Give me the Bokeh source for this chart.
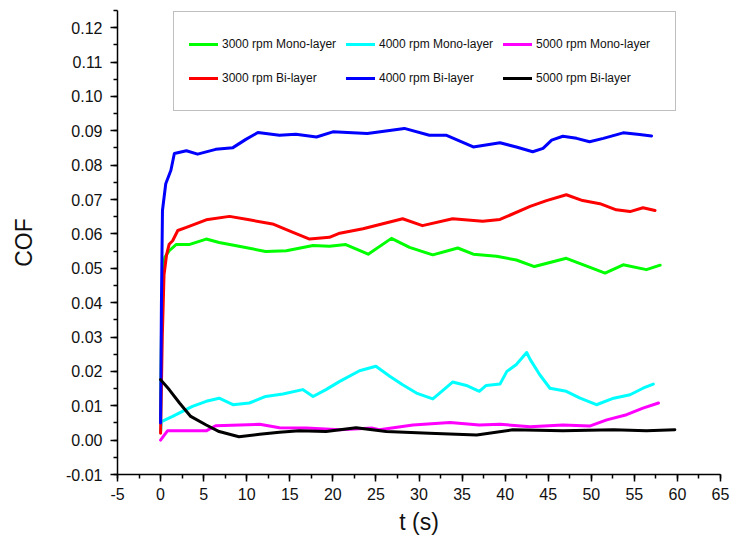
from bokeh.plotting import figure
from bokeh.models import (Range1d, SingleIntervalTicker, CustomJSTickFormatter,
                          Legend, LegendItem)
from bokeh.embed import file_html
from bokeh.resources import INLINE

# ---- data ----
t_green = [0, 0.1, 0.3, 0.5, 1.0, 1.8, 3.3, 5.3, 6.8, 9.1, 12.2, 14.6, 17.7, 19.6, 21.5,
           24.1, 26.8, 28.9, 31.6, 34.5, 36.3, 39.0, 41.3, 43.4, 47.1, 49.4, 51.6, 53.7, 56.4, 58.0]
cof_green = [0.0057, 0.030, 0.050, 0.0532, 0.0551, 0.0569, 0.0569, 0.0585, 0.0575, 0.0564,
             0.0549, 0.0551, 0.0566, 0.0564, 0.0569, 0.0541, 0.0587, 0.0561, 0.0539, 0.0559,
             0.0541, 0.0535, 0.0524, 0.0505, 0.0529, 0.0507, 0.0486, 0.0510, 0.0496, 0.0509]

t_red = [0, 0.2, 0.4, 0.7, 1.0, 1.4, 2.0, 3.0, 5.3, 8.0, 10.3, 13.0, 15.3, 17.3, 19.6, 20.8,
         23.5, 28.1, 30.4, 33.9, 37.4, 39.4, 42.9, 44.8, 47.1, 49.0, 51.0, 52.9, 54.5, 56.0, 57.4]
cof_red = [0.002, 0.030, 0.048, 0.054, 0.057, 0.058, 0.061, 0.0619, 0.0641, 0.0651, 0.0641,
           0.0629, 0.0605, 0.0585, 0.0590, 0.0602, 0.0615, 0.0644, 0.0624, 0.0644, 0.0637,
           0.0642, 0.0680, 0.0697, 0.0714, 0.0697, 0.0688, 0.0670, 0.0665, 0.0676, 0.0668]

t_blue = [0, 0.1, 0.22, 0.6, 1.2, 1.6, 3.0, 4.3, 6.4, 8.4, 9.9, 11.3, 13.8, 15.7, 18.1, 20.0,
          24.0, 28.3, 31.2, 33.2, 36.3, 39.4, 41.3, 43.2, 44.4, 45.4, 46.7, 48.3, 49.8, 51.4,
          53.7, 55.6, 57.0]
cof_blue = [0.005, 0.040, 0.0668, 0.0746, 0.0785, 0.0834, 0.0842, 0.0832, 0.0846, 0.0851,
            0.0875, 0.0895, 0.0887, 0.0890, 0.0882, 0.0897, 0.0892, 0.0907, 0.0887, 0.0887,
            0.0853, 0.0865, 0.0853, 0.0839, 0.0849, 0.0873, 0.0884, 0.0878, 0.0868, 0.0878,
            0.0894, 0.0889, 0.0885]

t_cyan = [0, 0.1, 1.4, 3.7, 5.3, 6.8, 8.4, 10.3, 12.2, 14.2, 16.5, 17.7, 19.2, 20.8, 23.1,
          25.0, 26.6, 28.1, 29.7, 31.6, 32.4, 33.9, 35.5, 37.0, 37.8, 39.4, 40.2, 41.3, 42.5,
          42.9, 44.0, 45.2, 47.1, 48.7, 50.6, 52.6, 54.5, 56.0, 57.2]
cof_cyan = [0.0023, 0.0054, 0.0069, 0.0098, 0.0113, 0.0122, 0.0103, 0.0108, 0.0127, 0.0134,
            0.0147, 0.0127, 0.0147, 0.0171, 0.0202, 0.0215, 0.0186, 0.0161, 0.0137, 0.0120,
            0.0137, 0.0169, 0.0159, 0.0142, 0.0159, 0.0163, 0.0200, 0.0220, 0.0255, 0.0235,
            0.0191, 0.0151, 0.0142, 0.0122, 0.0103, 0.0122, 0.0132, 0.0151, 0.0163]

t_magenta = [0, 0.8, 5.3, 6.4, 11.5, 13.8, 16.9, 20.8, 24.6, 25.4, 29.3, 33.6, 37.0, 39.4,
             42.9, 46.7, 49.8, 51.8, 54.1, 56.0, 57.8]
cof_magenta = [0.0, 0.0027, 0.0027, 0.0042, 0.0046, 0.0036, 0.0035, 0.0030, 0.0035, 0.0030,
               0.0044, 0.0051, 0.0044, 0.0046, 0.0039, 0.0044, 0.0041, 0.0059, 0.0074,
               0.0093, 0.0108]

t_black = [0, 1.0, 2.2, 3.5, 5.3, 6.8, 9.1, 11.5, 13.8, 16.1, 19.2, 22.7, 26.2, 31.2, 36.7,
           40.9, 46.7, 52.6, 56.4, 59.7]
cof_black = [0.0176, 0.0147, 0.0108, 0.0069, 0.0044, 0.0025, 0.0010, 0.0017, 0.0023, 0.0027,
             0.0025, 0.0036, 0.0025, 0.0020, 0.0015, 0.0030, 0.0027, 0.0030, 0.0027, 0.0030]

labels = ["3000 rpm Mono-layer", "4000 rpm Mono-layer", "5000 rpm Mono-layer",
          "3000 rpm Bi-layer", "4000 rpm Bi-layer", "5000 rpm Bi-layer"]
x_ticks_interval = 5
y_ticks_interval = 0.01

# ---- figure ----
p = figure(width=733, height=544, output_backend="svg", toolbar_location=None,
           x_range=Range1d(-5, 65), y_range=Range1d(-0.01, 0.125),
           min_border_left=117, min_border_right=13, min_border_top=10, min_border_bottom=70)
p.outline_line_color = None
p.xgrid.visible = False
p.ygrid.visible = False
p.background_fill_color = "white"
p.border_fill_color = "white"

p.xaxis.ticker = SingleIntervalTicker(interval=x_ticks_interval, num_minor_ticks=2)
p.yaxis.ticker = SingleIntervalTicker(interval=y_ticks_interval, num_minor_ticks=2)
p.xaxis.formatter = CustomJSTickFormatter(code="return tick.toFixed(0);")
p.yaxis.formatter = CustomJSTickFormatter(code="return tick.toFixed(2);")

for ax in (p.xaxis[0], p.yaxis[0]):
    ax.axis_line_width = 1.5
    ax.axis_line_color = "black"
    ax.major_tick_line_width = 1.5
    ax.minor_tick_line_width = 1.5
    ax.major_tick_out = 7
    ax.major_tick_in = 0
    ax.minor_tick_out = 4
    ax.minor_tick_in = 0
    ax.major_label_text_font = "Liberation Sans"
    ax.major_label_text_font_size = "16px"
    ax.major_label_text_color = "#111111"
    ax.axis_label_text_font = "Liberation Sans"
    ax.axis_label_text_font_size = "23px"
    ax.axis_label_text_font_style = "normal"
    ax.axis_label_text_color = "#111111"

p.yaxis.major_label_standoff = 8
p.xaxis.major_label_standoff = 6
p.xaxis.axis_label = "t (s)"
p.xaxis.axis_label_standoff = 6
p.yaxis.axis_label = "COF"
p.yaxis.axis_label_standoff = 26

lw = 3
series = [
    (t_green, cof_green, "#00ff00"),
    (t_cyan, cof_cyan, "#00ffff"),
    (t_magenta, cof_magenta, "#ff00ff"),
    (t_red, cof_red, "#ff0000"),
    (t_blue, cof_blue, "#0000ff"),
    (t_black, cof_black, "#000000"),
]
rends = []
for tx, cy, col in series:
    r = p.line(tx, cy, line_color=col, line_width=lw, line_join="round", line_cap="round")
    rends.append(r)

# column-major order for a 3-column, 2-row legend
order = [0, 3, 1, 4, 2, 5]
items = [LegendItem(label=labels[i], renderers=[rends[i]]) for i in order]
legend = Legend(items=items, location=(56, 363), ncols=3, orientation="vertical",
                label_text_font="Liberation Sans", label_text_font_size="12px",
                label_text_color="#111111",
                glyph_width=29, glyph_height=34, label_height=34, label_width=124,
                label_standoff=4, spacing=0, padding=15,
                border_line_color="#808080", border_line_width=1.5,
                background_fill_color="white", background_fill_alpha=1.0)
p.add_layout(legend)

open("out.html", "w").write(file_html(p, INLINE))
